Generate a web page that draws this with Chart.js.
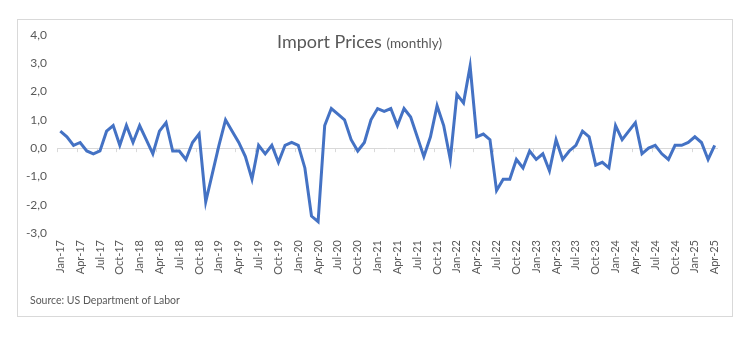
<!DOCTYPE html>
<html>
<head>
<meta charset="utf-8">
<script src="https://cdn.jsdelivr.net/npm/chart.js@4.4.1/dist/chart.umd.min.js"></script>
<style>
  html, body { margin: 0; padding: 0; background: #fff; }
  #wrap { position: relative; width: 752px; height: 337px; }
  #frame { position: absolute; left: 17px; top: 19px; width: 714px; height: 296px; border: 1px solid #d9d9d9; }
  #title { position: absolute; left: 277px; top: 30px; white-space: nowrap; font-family: Lato, sans-serif; color: #595959; font-size: 18px; }
  #title small { font-size: 13.5px; }
  #source { position: absolute; left: 30px; top: 294px; font-family: Lato, sans-serif; color: #595959; font-size: 10.5px; }
  canvas { position: absolute; left: 0; top: 0; }
</style>
</head>
<body>
<div id="wrap">
  <div id="frame"></div>
  <canvas id="myChart" width="752" height="337"></canvas>
  <div id="title">Import Prices <small>(monthly)</small></div>
  <div id="source">Source: US Department of Labor</div>
</div>
<script>
const monthNames = ['Jan', 'Feb', 'Mar', 'Apr', 'May', 'Jun', 'Jul', 'Aug', 'Sep', 'Oct', 'Nov', 'Dec'];
const years = ['17', '18', '19', '20', '21', '22', '23', '24', '25'];

// monthly % change, Jan-17 .. Apr-25
const prices2017 = [0.6, 0.4, 0.1, 0.2, -0.1, -0.2, -0.1, 0.6, 0.8, 0.1, 0.8, 0.2];
const prices2018 = [0.8, 0.3, -0.2, 0.6, 0.9, -0.1, -0.1, -0.4, 0.2, 0.5, -1.9, -0.9];
const prices2019 = [0.1, 1.0, 0.6, 0.2, -0.3, -1.1, 0.1, -0.2, 0.1, -0.5, 0.1, 0.2];
const prices2020 = [0.1, -0.7, -2.4, -2.6, 0.8, 1.4, 1.2, 1.0, 0.3, -0.1, 0.2, 1.0];
const prices2021 = [1.4, 1.3, 1.4, 0.8, 1.4, 1.1, 0.4, -0.3, 0.4, 1.5, 0.8, -0.4];
const prices2022 = [1.9, 1.6, 2.9, 0.4, 0.5, 0.3, -1.5, -1.1, -1.1, -0.4, -0.7, -0.1];
const prices2023 = [-0.4, -0.2, -0.8, 0.3, -0.4, -0.1, 0.1, 0.6, 0.4, -0.6, -0.5, -0.7];
const prices2024 = [0.8, 0.3, 0.6, 0.9, -0.2, 0.0, 0.1, -0.2, -0.4, 0.1, 0.1, 0.2];
const prices2025 = [0.4, 0.2, -0.4, 0.1];

const importPrices = [].concat(prices2017, prices2018, prices2019, prices2020,
  prices2021, prices2022, prices2023, prices2024, prices2025);

const labels = [];
years.forEach(y => monthNames.forEach(m => labels.push(m + '-' + y)));
labels.length = importPrices.length;

const textColor = '#595959';
const lineGrey = '#d9d9d9';

// small tick marks on the zero line, every quarter
const zeroTicks = {
  id: 'zeroTicks',
  beforeDatasetsDraw(chart) {
    const { ctx, scales: { x, y } } = chart;
    const y0 = y.getPixelForValue(0);
    const half = (x.getPixelForValue(1) - x.getPixelForValue(0)) / 2;
    ctx.save();
    ctx.strokeStyle = lineGrey;
    ctx.lineWidth = 1;
    for (let i = 0; i <= labels.length; i += 3) {
      const px = Math.round(x.getPixelForValue(i) - half) + 0.5;
      ctx.beginPath();
      ctx.moveTo(px, y0);
      ctx.lineTo(px, y0 + 4);
      ctx.stroke();
    }
    ctx.restore();
  }
};

new Chart(document.getElementById('myChart'), {
  type: 'line',
  data: {
    labels: labels,
    datasets: [{
      data: importPrices,
      borderColor: '#4472C4',
      borderWidth: 3,
      pointRadius: 0,
      tension: 0,
      fill: false
    }]
  },
  options: {
    responsive: false,
    animation: false,
    layout: { padding: { left: 17, right: 34, top: 35, bottom: 0 } },
    plugins: { legend: { display: false }, tooltip: { enabled: false } },
    scales: {
      x: {
        offset: true,
        grid: { display: false, drawTicks: false },
        border: { display: false },
        afterFit: s => { s.height = 104; },
        ticks: {
          autoSkip: false,
          minRotation: 90,
          maxRotation: 90,
          padding: 7,
          color: textColor,
          font: { family: 'Lato', size: 11 },
          callback: (v, i) => (i % 3 === 0 ? labels[i] : '')
        }
      },
      y: {
        min: -3,
        max: 4,
        grid: {
          drawTicks: false,
          color: c => (c.tick.value === 0 ? lineGrey : 'transparent')
        },
        border: { display: false },
        afterFit: s => { s.width = 40; },
        ticks: {
          stepSize: 1,
          padding: 10,
          color: textColor,
          font: { family: 'Lato', size: 12 },
          callback: v => v.toFixed(1).replace('.', ',')
        }
      }
    }
  },
  plugins: [zeroTicks]
});
</script>
</body>
</html>
